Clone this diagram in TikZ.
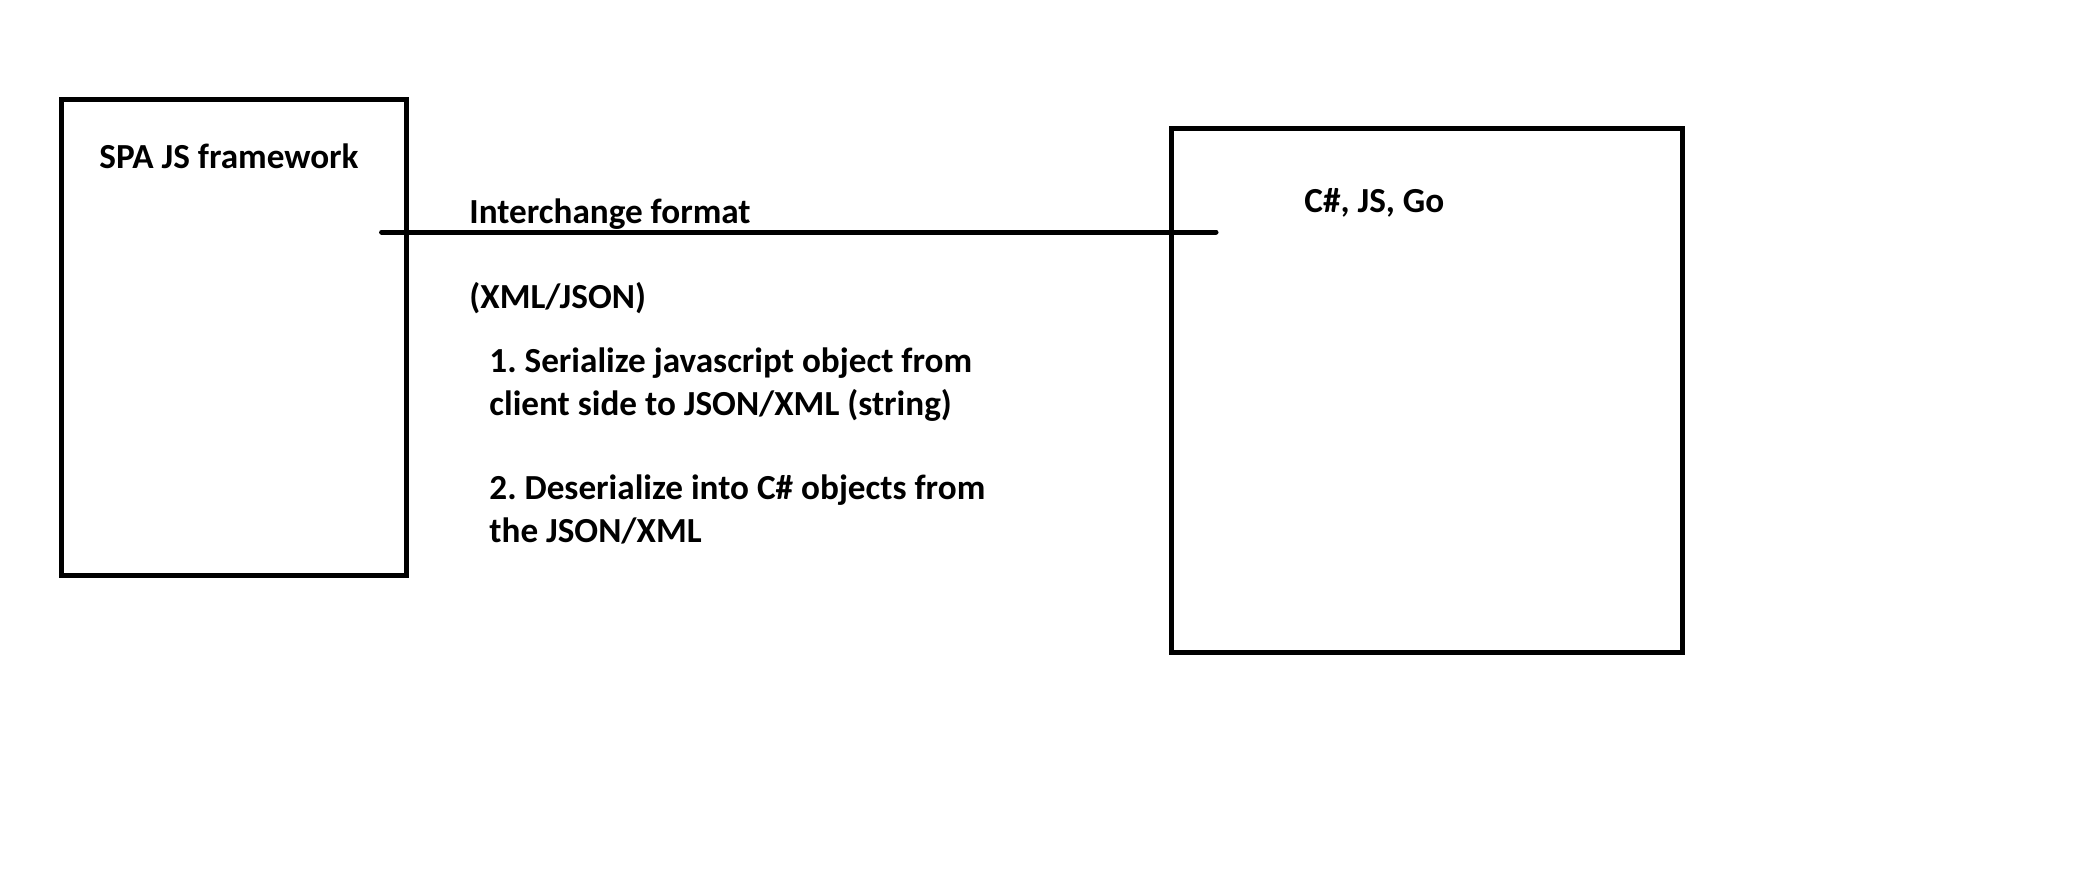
\documentclass[tikz,border=0pt]{standalone}
\usepackage{fontspec}
\setmainfont{Carlito}
\usetikzlibrary{positioning}
\frenchspacing

\tikzset{
  box/.style = {draw, line width = 2.5pt, inner sep = 0pt},
  link/.style = {line width = 2.5pt, line cap = round},
  lbl/.style = {anchor = base west, inner sep = 0pt, align = left,
    font = \fontsize{17.6pt}{21.4pt}\selectfont\bfseries}
}

\begin{document}
\begin{tikzpicture}[x = 0.5pt, y = -0.5pt]
\useasboundingbox (0,0) rectangle (2078,890);
% the two sides
\node[box, minimum width = 172.2pt, minimum height = 238.2pt] (spa) at (233.9,337.7) {};
\node[box, minimum width = 255.7pt, minimum height = 261.8pt] (server) at (1426.9,390.3) {};
\node[lbl] (spaname) at (99,168) {SPA JS framework};
\node[lbl] (servername) at (1304,212) {C\#, JS, Go};
% interchange line
\coordinate (ifL) at (381.6,232);
\coordinate (ifR) at (1216,232);
\draw[link] (ifL) -- (ifR);
\node[lbl] (fmt) at (469,223) {Interchange format};
\node[lbl] (fmtkind) at (469,308) {(XML/JSON)};
% base anchor sits on the last line
\node[lbl] (stepone) at (489,415) {1. Serialize javascript object from\\client side to JSON/XML (string)};
\node[lbl] (steptwo) at (489,542) {2. Deserialize into C\# objects from\\the JSON/XML};
\end{tikzpicture}
\end{document}
